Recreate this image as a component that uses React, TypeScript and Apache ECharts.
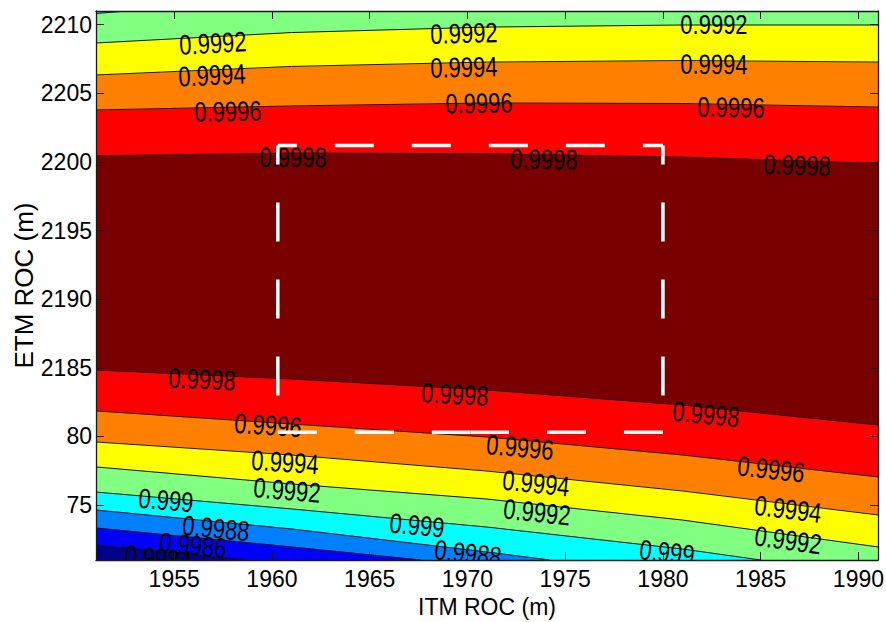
import React, { useEffect, useRef } from 'react';
import * as echarts from 'echarts';

// Axis ranges and ticks
const xRange = [1951, 1991];
const yRange = [2171, 2211];
const xTicks = [1955, 1960, 1965, 1970, 1975, 1980, 1985, 1990];
const yTicks = [2175, 2180, 2185, 2190, 2195, 2200, 2205, 2210];
const yTickLabels = ['75', '80', '2185', '2190', '2195', '2200', '2205', '2210'];

// Contour levels and band colours (jet): band i lies below level i, band 8 above the top level
const levels = ['0.9984', '0.9986', '0.9988', '0.999', '0.9992', '0.9994', '0.9996', '0.9998'];
const bandColors = ['#00008c', '#0000ff', '#0080ff', '#00ffff', '#80ff80', '#ffff00', '#ff8000', '#ff0000', '#780000'];

// Upper contour lines (values fall towards the top)
const upper0999 = [[1951, 2210.82], [1952.6, 2211]];
const upper09992 = [[1951, 2208.67], [1961, 2209.43], [1971, 2209.83], [1981, 2209.98], [1991, 2209.98]];
const upper09994 = [[1951, 2206.34], [1961, 2206.96], [1971, 2207.28], [1981, 2207.39], [1991, 2207.28]];
const upper09996 = [[1951, 2203.79], [1961, 2204.08], [1971, 2204.3], [1981, 2204.26], [1991, 2204.0]];
const upper09998 = [[1951, 2200.45], [1961, 2200.65], [1971, 2200.6], [1981, 2200.35], [1991, 2199.9]];

// Lower contour lines (values fall towards the bottom)
const lower09998 = [[1951, 2184.84], [1961, 2184.19], [1971, 2183.39], [1981, 2182.29], [1991, 2180.84]];
const lower09996 = [[1951, 2181.86], [1961, 2180.91], [1971, 2179.96], [1981, 2178.65], [1991, 2177.05]];
const lower09994 = [[1951, 2179.6], [1961, 2178.65], [1971, 2177.48], [1981, 2176.03], [1991, 2174.28]];
const lower09992 = [[1951, 2177.78], [1961, 2176.54], [1971, 2175.44], [1981, 2173.91], [1991, 2171.95]];
const lower0999 = [[1951, 2175.95], [1961, 2174.72], [1971, 2173.4], [1981, 2171.8], [1985, 2171]];
const lower09988 = [[1951, 2174.64], [1961, 2173.26], [1971, 2171.58], [1974.2, 2171]];
const lower09986 = [[1951, 2173.33], [1961, 2171.95], [1967.6, 2171]];
const lower09984 = [[1951, 2172.09], [1958.7, 2171]];

// Contour label anchors
const labUpper09992 = [[1956.98, 2208.67], [1969.82, 2209.4], [1982.61, 2210.05]];
const labUpper09994 = [[1956.93, 2206.34], [1969.82, 2206.92], [1982.61, 2207.14]];
const labUpper09996 = [[1957.75, 2203.71], [1970.59, 2204.3], [1983.48, 2204.0]];
const labUpper09998 = [[1961.08, 2200.36], [1973.92, 2200.22], [1986.86, 2199.78]];
const labLower09998 = [[1956.42, 2184.19], [1969.36, 2183.09], [1982.2, 2181.64]];
const labLower09996 = [[1959.8, 2180.84], [1972.69, 2179.23], [1985.53, 2177.63]];
const labLower09994 = [[1960.67, 2178.14], [1973.51, 2176.61], [1986.4, 2174.72]];
const labLower09992 = [[1960.77, 2176.1], [1973.56, 2174.5], [1986.4, 2172.46]];
const labLower0999 = [[1954.58, 2175.37], [1967.42, 2173.55], [1980.21, 2171.58]];
const labLower09988 = [[1957.14, 2173.33], [1970.03, 2171.51]];
const labLower09986 = [[1955.96, 2172.09]];
const labLower09984 = [[1954.17, 2171.15]];

// Dashed region of interest
const boxX = [1960.3, 1980];
const boxY = [2180.3, 2201.2];

const upperLines = [null, null, null, upper0999, upper09992, upper09994, upper09996, upper09998];
const lowerLines = [lower09984, lower09986, lower09988, lower0999, lower09992, lower09994, lower09996, lower09998];
const upperLabels = [null, null, null, null, labUpper09992, labUpper09994, labUpper09996, labUpper09998];
const lowerLabels = [labLower09984, labLower09986, labLower09988, labLower0999, labLower09992, labLower09994, labLower09996, labLower09998];

const FONT = '"Liberation Sans", Arial, Helvetica, sans-serif';

function renderItem(params: any, api: any) {
  const [x0, x1] = xRange;
  const [y0, y1] = yRange;
  const children: any[] = [];
  const poly = (pts: number[][], fill: string) => ({
    type: 'polygon',
    shape: { points: pts.map((p) => api.coord(p)) },
    style: { fill, stroke: fill, lineWidth: 0.6 },
  });
  children.push(poly([[x0, y0], [x1, y0], [x1, y1], [x0, y1]], bandColors[8]));
  for (let i = lowerLines.length - 1; i >= 0; i--) {
    const line = lowerLines[i];
    const pts = line.slice();
    if (line[line.length - 1][0] >= x1) pts.push([x1, y0]);
    pts.push([x0, y0]);
    children.push(poly(pts, bandColors[i]));
  }
  for (let i = upperLines.length - 1; i >= 0; i--) {
    const line = upperLines[i];
    if (!line) continue;
    const pts = line.slice();
    if (line[line.length - 1][0] >= x1) pts.push([x1, y1]);
    pts.push([x0, y1]);
    children.push(poly(pts, bandColors[i]));
  }
  const allLines = [...lowerLines, ...upperLines].filter(Boolean) as number[][][];
  allLines.forEach((line) => {
    children.push({
      type: 'polyline',
      shape: { points: line.map((p) => api.coord(p)) },
      style: { stroke: '#141414', lineWidth: 1, fill: null },
    });
  });
  const slopeAngle = (line: number[][], x: number) => {
    let k = 0;
    while (k < line.length - 2 && line[k + 1][0] < x) k++;
    const a = api.coord(line[k]);
    const b = api.coord(line[k + 1]);
    return -Math.atan2(b[1] - a[1], b[0] - a[0]);
  };
  const addLabels = (lines: any[], labs: any[]) => {
    labs.forEach((pts, i) => {
      if (!pts || !lines[i]) return;
      pts.forEach((p: number[]) => {
        const c = api.coord(p);
        children.push({
          type: 'text',
          x: c[0],
          y: c[1],
          rotation: slopeAngle(lines[i], p[0]),
          scaleY: 1.28,
          style: {
            text: levels[i],
            fill: '#000',
            fontSize: 22,
            fontFamily: FONT,
            align: 'center',
            verticalAlign: 'middle',
          },
        });
      });
    });
  };
  addLabels(upperLines, upperLabels);
  addLabels(lowerLines, lowerLabels);

  const tl = api.coord([boxX[0], boxY[1]]);
  const tr = api.coord([boxX[1], boxY[1]]);
  const bl = api.coord([boxX[0], boxY[0]]);
  const br = api.coord([boxX[1], boxY[0]]);
  const bm = api.coord([(boxX[0] + boxX[1]) / 2, boxY[0]]);
  const dash = (a: number[], b: number[], offset: number) => ({
    type: 'line',
    shape: { x1: a[0], y1: a[1], x2: b[0], y2: b[1] },
    style: { stroke: '#ffffff', lineWidth: 3.5, lineDash: [39, 38], lineDashOffset: offset, lineCap: 'butt' },
  });
  children.push(dash(tl, tr, 20));
  children.push(dash(tr, br, 20));
  children.push(dash(tl, bl, 20));
  children.push(dash(bl, bm, 0));
  children.push(dash(br, bm, 0));

  return { type: 'group', children };
}

export default function App() {
  const ref = useRef<HTMLDivElement>(null);
  useEffect(() => {
    document.body.style.margin = '0';
    const chart = echarts.init(ref.current!, null, { renderer: 'svg' });
    const axisCommon = {
      type: 'value',
      axisLine: { show: true, onZero: false, lineStyle: { color: '#1a1a1a', width: 1.3 } },
      axisTick: { show: true, inside: true, length: 8, lineStyle: { color: '#1a1a1a', width: 1 } },
      splitLine: { show: false },
      z: 10,
    };
    chart.setOption({
      animation: false,
      backgroundColor: '#ffffff',
      grid: { left: 96, right: 8, top: 11, bottom: 62, containLabel: false, outerBoundsMode: 'none' },
      xAxis: [
        {
          ...axisCommon,
          position: 'bottom',
          min: xRange[0],
          max: xRange[1],
          axisTick: { ...axisCommon.axisTick, customValues: xTicks },
          axisLabel: {
            customValues: xTicks,
            color: '#000',
            fontSize: 23,
            fontFamily: FONT,
            margin: 7,
            formatter: (v: number) => String(Math.round(v)),
          },
          name: 'ITM ROC (m)',
          nameLocation: 'middle',
          nameGap: 35,
          nameTextStyle: { color: '#000', fontSize: 23, fontFamily: FONT },
        },
        {
          ...axisCommon,
          position: 'top',
          min: xRange[0],
          max: xRange[1],
          axisTick: { ...axisCommon.axisTick, customValues: xTicks },
          axisLabel: { show: false, customValues: xTicks },
        },
      ],
      yAxis: [
        {
          ...axisCommon,
          position: 'left',
          min: yRange[0],
          max: yRange[1],
          axisTick: { ...axisCommon.axisTick, customValues: yTicks },
          axisLabel: {
            customValues: yTicks,
            color: '#000',
            fontSize: 23,
            fontFamily: FONT,
            margin: 4,
            formatter: (v: number) => {
              const i = yTicks.indexOf(Math.round(v));
              return i >= 0 ? yTickLabels[i] : '';
            },
          },
          name: 'ETM ROC (m)',
          nameLocation: 'middle',
          nameRotate: 90,
          nameGap: 59,
          nameMoveOverlap: false,
          nameTextStyle: { color: '#000', fontSize: 26, fontFamily: FONT },
        },
        {
          ...axisCommon,
          position: 'right',
          min: yRange[0],
          max: yRange[1],
          axisTick: { ...axisCommon.axisTick, customValues: yTicks },
          axisLabel: { show: false, customValues: yTicks },
        },
      ],
      series: [
        {
          type: 'custom',
          xAxisIndex: 0,
          yAxisIndex: 0,
          clip: true,
          z: 1,
          data: [[xRange[0], yRange[0]]],
          renderItem,
        },
      ],
    });
    return () => chart.dispose();
  }, []);
  return <div ref={ref} style={{ width: 886, height: 622 }} />;
}
